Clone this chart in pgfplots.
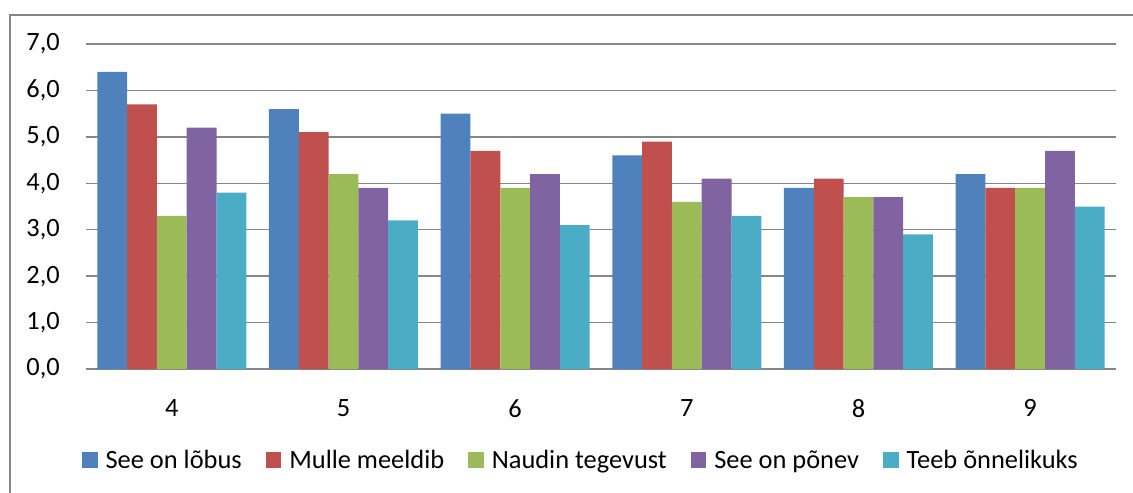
\documentclass[border=0pt]{standalone}
\usepackage{pgfplots}
\pgfplotsset{compat=1.18}
\usepackage{fontspec}
\setmainfont{Carlito}
\definecolor{cA}{HTML}{4F81BD}
\definecolor{cB}{HTML}{C0504D}
\definecolor{cC}{HTML}{9BBB59}
\definecolor{cD}{HTML}{8064A2}
\definecolor{cE}{HTML}{4BACC6}
\definecolor{gridc}{HTML}{868686}
\begin{document}
\begin{tikzpicture}
\useasboundingbox (0bp,0bp) rectangle (1133bp,-493bp);
\draw[gridc, line width=2bp] (10bp,-493bp) -- (10bp,-15bp) -- (1133bp,-15bp);
\begin{axis}[
  at={(86bp,-369bp)}, anchor=south west,
  scale only axis, width=1030bp, height=325bp,
  xmin=-0.5, xmax=5.5, ymin=0, ymax=7,
  axis x line*=bottom, axis y line*=left,
  x axis line style={gridc, line width=1.8bp, -},
  y axis line style={draw=none},
  ymajorgrids, grid style={gridc, line width=1.4bp},
  major tick length=0pt,
  xtick={0,1,2,3,4,5}, xticklabels={4,5,6,7,8,9},
  ytick={0,1,2,3,4,5,6,7},
  yticklabels={{0,0},{1,0},{2,0},{3,0},{4,0},{5,0},{6,0},{7,0}},
  tick label style={font=\fontsize{26.5}{30}\selectfont, text=black, inner sep=0pt},
  x tick label style={anchor=north, yshift=-30bp},
  y tick label style={anchor=east, xshift=-26bp},
  ybar, bar width=0.1736,
  legend style={at={(0.4805,-0.28)}, anchor=center, draw=none, fill=none,
    font=\fontsize{26.5}{30}\selectfont, legend columns=5,
    /tikz/every odd column/.append style={column sep=6bp},
    /tikz/every even column/.append style={column sep=22bp},
    legend cell align=left, inner sep=0pt},
  legend image code/.code={\fill[#1, draw=none] (0bp,-7.8bp) rectangle (15.6bp,7.8bp);},
  clip=false,
]
\addplot[fill=cA, draw=none, bar shift=-0.3472] coordinates {(0,6.4) (1,5.6) (2,5.5) (3,4.6) (4,3.9) (5,4.2)};
\addplot[fill=cB, draw=none, bar shift=-0.1736] coordinates {(0,5.7) (1,5.1) (2,4.7) (3,4.9) (4,4.1) (5,3.9)};
\addplot[fill=cC, draw=none, bar shift=0] coordinates {(0,3.3) (1,4.2) (2,3.9) (3,3.6) (4,3.7) (5,3.9)};
\addplot[fill=cD, draw=none, bar shift=0.1736] coordinates {(0,5.2) (1,3.9) (2,4.2) (3,4.1) (4,3.7) (5,4.7)};
\addplot[fill=cE, draw=none, bar shift=0.3472] coordinates {(0,3.8) (1,3.2) (2,3.1) (3,3.3) (4,2.9) (5,3.5)};
\legend{See on lõbus, Mulle meeldib, Naudin tegevust, See on põnev, Teeb õnnelikuks}
\end{axis}
\end{tikzpicture}
\end{document}
